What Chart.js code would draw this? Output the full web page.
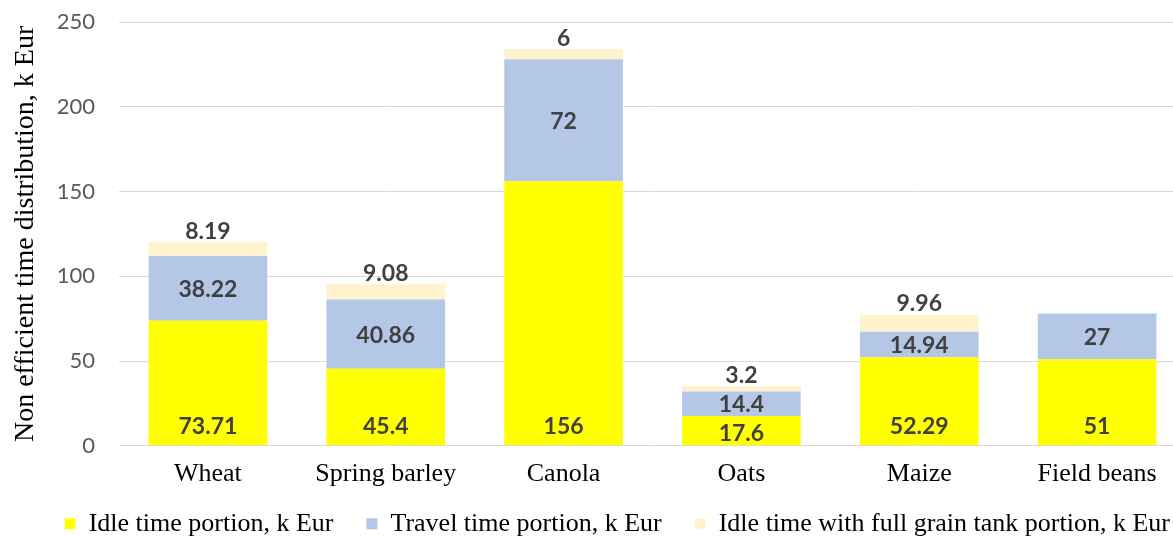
<!DOCTYPE html>
<html>
<head>
<meta charset="utf-8">
<script src="https://cdn.jsdelivr.net/npm/chart.js@4.4.1/dist/chart.umd.min.js"></script>
<style>
  html, body { margin: 0; padding: 0; background: #ffffff; overflow: hidden; width: 1173px; height: 536px; }
  #wrap { position: absolute; left: 0; top: 0; width: 1186px; height: 536px; }
  canvas { display: block; }
</style>
</head>
<body>
<div id="wrap"><canvas id="c" width="1186" height="536"></canvas></div>
<script>
// ---- Data ----
const categories = ['Wheat', 'Spring barley', 'Canola', 'Oats', 'Maize', 'Field beans'];
const idleTimePortion = [73.71, 45.4, 156, 17.6, 52.29, 51];
const travelTimePortion = [38.22, 40.86, 72, 14.4, 14.94, 27];
const fullTankIdlePortion = [8.19, 9.08, 6, 3.2, 9.96, null];
const seriesNames = ['Idle time portion, k Eur', 'Travel time portion, k Eur', 'Idle time with full grain tank portion, k Eur'];
const yAxisTitle = 'Non efficient time distribution, k Eur';
const yMin = 0, yMax = 250, yStep = 50;

const colors = ['#FFFF00', '#B4C7E7', '#FFF2CC'];

const valueLabels = {
  id: 'valueLabels',
  afterDatasetsDraw(chart) {
    const ctx = chart.ctx;
    ctx.save();
    ctx.font = 'bold 23px Lato';
    ctx.fillStyle = '#404040';
    ctx.textAlign = 'center';
    ctx.textBaseline = 'middle';
    chart.data.datasets.forEach((ds, di) => {
      const meta = chart.getDatasetMeta(di);
      meta.data.forEach((el, i) => {
        const v = ds.data[i];
        if (v === null || v === undefined) return;
        const top = Math.min(el.y, el.base), bot = Math.max(el.y, el.base);
        let y;
        if (di === 0) y = Math.max(bot - 19, (top + bot) / 2 + 3);
        else if (di === 1) y = (top + bot) / 2 + 1;
        else y = top - 11;
        ctx.fillText(String(v), el.x, y);
      });
    });
    ctx.restore();
  }
};

// make the legend reserve less room and place it where the reference shows it
const legendPlace = {
  id: 'legendPlace',
  beforeLayout(chart) {
    const l = chart.legend;
    if (l && !l._patched) {
      const f = l.fit;
      l.fit = function () { f.call(this); this.height = 33; };
      l._patched = true;
    }
  },
  afterLayout(chart) {
    const l = chart.legend;
    if (!l) return;
    l.top = chart.chartArea.bottom + 32;
    l.bottom = l.top + 100;
    l.height = 100;
    l.left += 17; l.right += 17;
  }
};

new Chart(document.getElementById('c'), {
  type: 'bar',
  data: {
    labels: categories,
    datasets: [
      { label: seriesNames[0], data: idleTimePortion, backgroundColor: colors[0] },
      { label: seriesNames[1], data: travelTimePortion, backgroundColor: colors[1] },
      { label: seriesNames[2], data: fullTankIdlePortion, backgroundColor: colors[2] }
    ]
  },
  options: {
    responsive: false,
    animation: false,
    devicePixelRatio: 1,
    layout: { padding: { top: 22, right: 0, left: 0, bottom: 0 } },
    datasets: { bar: { barPercentage: 0.667, categoryPercentage: 1.0, borderWidth: 0 } },
    plugins: {
      tooltip: { enabled: false },
      legend: {
        position: 'bottom',
        align: 'end',
        labels: {
          font: { family: "'Liberation Serif', 'Times New Roman', serif", size: 26 },
          color: '#000000',
          boxWidth: 11,
          boxHeight: 11,
          padding: 33
        }
      }
    },
    scales: {
      x: {
        stacked: true,
        grid: { display: false, drawTicks: false },
        border: { display: false },
        ticks: {
          font: { family: "'Liberation Serif', 'Times New Roman', serif", size: 26 },
          color: '#000000',
          padding: 13
        }
      },
      y: {
        stacked: true,
        min: yMin,
        max: yMax,
        afterFit(scale) { scale.width = 119; scale.paddingTop = 0; scale.paddingBottom = 0; },
        ticks: {
          stepSize: yStep,
          font: { family: 'Lato', size: 22 },
          color: '#595959',
          padding: 24
        },
        grid: { color: '#D9D9D9', lineWidth: 1, drawTicks: false },
        border: { display: false },
        title: {
          display: true,
          text: yAxisTitle,
          font: { family: "'Liberation Serif', 'Times New Roman', serif", size: 28 },
          color: '#000000',
          padding: { top: 9, bottom: 0 }
        }
      }
    }
  },
  plugins: [valueLabels, legendPlace]
});
</script>
</body>
</html>
